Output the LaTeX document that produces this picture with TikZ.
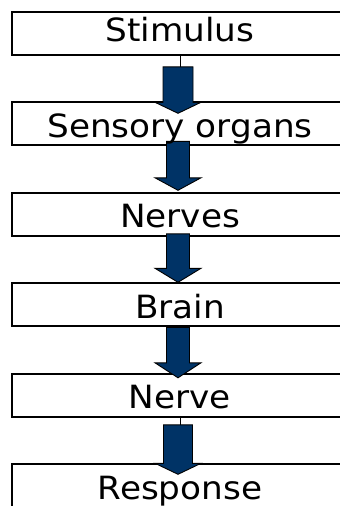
\documentclass[tikz,border=0pt]{standalone}
\usepackage{fontspec}
\setmainfont[FakeStretch=1.07]{DejaVu Sans}
\usepackage{tikz}
\usetikzlibrary{calc,positioning}

\definecolor{arrowblue}{RGB}{0,51,102}

\tikzset{
  stage/.style={draw, line width=2pt, minimum width=336pt, minimum height=43pt, inner sep=0pt},
  stagetext/.style={font=\fontsize{32}{38}\selectfont, text height=27.3pt, text depth=0pt, inner sep=0pt},
  arrowbody/.style={draw=black, line width=0.9pt, fill=arrowblue, line join=miter},
  stem/.style={draw=black, line width=0.9pt}
}

% block arrow: from, to, shaft top, head base, tip, half shaft
\newcommand{\flowarrow}[6]{%
  \draw[arrowbody] ($(#1.south)+(-2-#6,#3)$) -- ($(#1.south)+(-2+#6,#3)$)
    -- ($(#2.north)+(-2+#6,#4)$) -- ($(#2.north)+(21,#4)$)
    -- ($(#2.north)+(-2,#5)$) -- ($(#2.north)+(-25,#4)$)
    -- ($(#2.north)+(-2-#6,#4)$) -- cycle;}

\begin{document}
\begin{tikzpicture}[x=1pt, y=-1pt, node distance=45.5pt]
            \useasboundingbox (0,0) rectangle (340,506);
            \clip (0,0) rectangle (340,506);
            \node[stage] (stim) at (180,33.3) {};
            \node[stage, below=of stim] (organs) {};
            \node[stage, below=of organs] (nerves) {};
            \node[stage, below=of nerves] (brain) {};
            \node[stage, below=of brain] (nerve) {};
            \node[stage, below=of nerve] (resp) {};
            \draw[stem] (stim.south) -- ([yshift=-11pt]stim.south);
            \draw[stem] (nerve.south) -- ([yshift=-7pt]nerve.south);
            \flowarrow{stim}{organs}{11}{1}{12}{15}
            \flowarrow{organs}{nerves}{-5}{-14}{-1.5}{11.5}
            \flowarrow{nerves}{brain}{-3}{-14}{0}{11.5}
            \flowarrow{brain}{nerve}{0}{-10}{5}{11.5}
            \flowarrow{nerve}{resp}{7}{0}{11}{14.5}
            \node[stagetext, yshift=5.5pt] (stim-t) at (stim) {Stimulus};
            \node[stagetext] (organs-t) at (organs) {Sensory organs};
            \node[stagetext] (nerves-t) at (nerves) {Nerves};
            \node[stagetext] (brain-t) at (brain) {Brain};
            \node[stagetext] (nerve-t) at (nerve) {Nerve};
            \node[stagetext] (resp-t) at (resp) {Response};
        \end{tikzpicture}
\end{document}
